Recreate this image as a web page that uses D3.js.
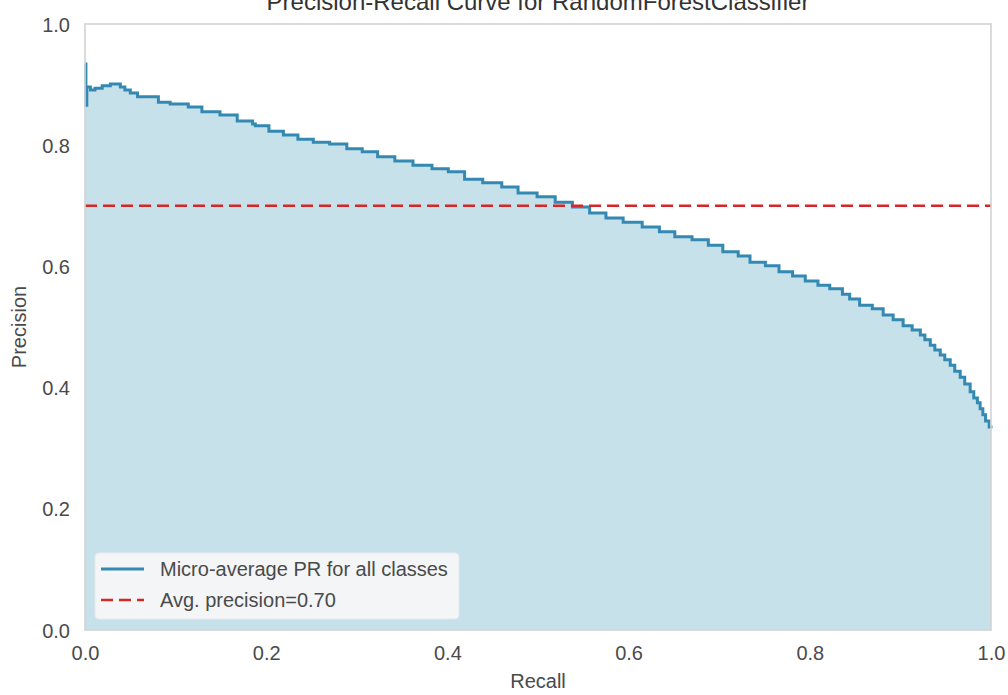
<!DOCTYPE html>
<html>
<head>
<meta charset="utf-8">
<script src="https://cdn.jsdelivr.net/npm/d3@7/dist/d3.min.js"></script>
<style>
  body { margin: 0; background: #ffffff; }
  svg { display: block; }
  text { font-family: "Liberation Sans", Arial, sans-serif; }
</style>
</head>
<body>
<svg id="chart" width="1008" height="695"></svg>
<script>
// ---- data ----
const recall = [0.000,0.001,0.002,0.006,0.011,0.019,0.028,0.039,0.044,0.050,0.058,0.081,0.094,0.114,0.129,0.149,0.168,0.185,0.188,0.203,0.219,0.235,0.252,0.270,0.289,0.306,0.323,0.342,0.362,0.383,0.401,0.419,0.439,0.460,0.478,0.499,0.519,0.538,0.557,0.575,0.594,0.615,0.634,0.651,0.670,0.688,0.704,0.721,0.734,0.751,0.766,0.781,0.795,0.809,0.822,0.836,0.844,0.855,0.869,0.881,0.892,0.903,0.913,0.922,0.927,0.933,0.938,0.944,0.949,0.955,0.960,0.966,0.971,0.977,0.981,0.985,0.988,0.991,0.994,0.998,1.000];
const precision = [0.934,0.866,0.896,0.891,0.894,0.898,0.901,0.896,0.891,0.886,0.880,0.871,0.868,0.863,0.855,0.850,0.840,0.835,0.832,0.823,0.817,0.810,0.805,0.802,0.794,0.789,0.781,0.774,0.767,0.761,0.756,0.744,0.738,0.731,0.721,0.715,0.706,0.698,0.688,0.680,0.673,0.665,0.657,0.649,0.644,0.635,0.624,0.617,0.607,0.601,0.591,0.584,0.576,0.569,0.563,0.554,0.546,0.536,0.530,0.520,0.512,0.502,0.495,0.487,0.479,0.470,0.462,0.454,0.446,0.437,0.427,0.417,0.406,0.393,0.383,0.375,0.365,0.355,0.345,0.335,0.333];
const avgPrecision = 0.70;
const xTicks = [0.0, 0.2, 0.4, 0.6, 0.8, 1.0];
const yTicks = [0.0, 0.2, 0.4, 0.6, 0.8, 1.0];
const titleText = "Precision-Recall Curve for RandomForestClassifier";
const xLabel = "Recall";
const yLabel = "Precision";
const legendLabels = ["Micro-average PR for all classes", "Avg. precision=0.70"];

// ---- layout ----
const svg = d3.select("#chart");
const M = { left: 85, right: 991, top: 24, bottom: 630 };
const x = d3.scaleLinear().domain([0, 1]).range([M.left, M.right]);
const y = d3.scaleLinear().domain([0, 1]).range([M.bottom, M.top]);

const lineColor = "#3389b1";
const fillColor = "#c7e1ea";
const redColor = "#d62728";
const textColor = "#4a4a4a";

const pts = recall.map((r, i) => ({ r: r, p: precision[i] }));

// area
svg.append("path")
  .datum(pts)
  .attr("fill", fillColor)
  .attr("d", d3.area().curve(d3.curveStepAfter)
    .x(d => x(d.r)).y0(y(0)).y1(d => y(d.p)));

// line
svg.append("path")
  .datum(pts)
  .attr("fill", "none")
  .attr("stroke", lineColor)
  .attr("stroke-width", 3)
  .attr("stroke-linejoin", "miter")
  .attr("d", d3.line().curve(d3.curveStepAfter).x(d => x(d.r)).y(d => y(d.p)));

// avg precision dashed line
svg.append("line")
  .attr("x1", x(0)).attr("x2", x(1))
  .attr("y1", y(avgPrecision)).attr("y2", y(avgPrecision))
  .attr("stroke", redColor)
  .attr("stroke-width", 2.6)
  .attr("stroke-dasharray", "12,6");

// frame
svg.append("rect")
  .attr("x", M.left).attr("y", M.top)
  .attr("width", M.right - M.left).attr("height", M.bottom - M.top)
  .attr("fill", "none").attr("stroke", "#d2d2d2").attr("stroke-width", 1.6);

// axes
const fmt = d3.format(".1f");
const xAxis = svg.append("g").attr("transform", `translate(0,${M.bottom})`)
  .call(d3.axisBottom(x).tickValues(xTicks).tickFormat(fmt).tickSize(0).tickPadding(0));
xAxis.select(".domain").remove();
xAxis.selectAll("text").attr("y", 30).attr("dy", 0).attr("font-size", 20).attr("fill", textColor)
  .attr("font-family", "Liberation Sans, Arial, sans-serif");

const yAxis = svg.append("g").attr("transform", `translate(${M.left},0)`)
  .call(d3.axisLeft(y).tickValues(yTicks).tickFormat(fmt).tickSize(0).tickPadding(0));
yAxis.select(".domain").remove();
yAxis.selectAll("text").attr("x", -15).attr("dy", "0.35em").attr("font-size", 20).attr("fill", textColor)
  .attr("font-family", "Liberation Sans, Arial, sans-serif");

// axis labels
svg.append("text").attr("x", (M.left + M.right) / 2).attr("y", 688)
  .attr("text-anchor", "middle").attr("font-size", 20).attr("fill", textColor).text(xLabel);
svg.append("text").attr("transform", `translate(26,${(M.top + M.bottom) / 2}) rotate(-90)`)
  .attr("text-anchor", "middle").attr("font-size", 20).attr("fill", textColor).text(yLabel);

// title (clipped at top in reference)
svg.append("text").attr("x", (M.left + M.right) / 2).attr("y", 10)
  .attr("text-anchor", "middle").attr("font-size", 24).attr("fill", "#333").text(titleText);

// legend
const lg = svg.append("g");
lg.append("rect").attr("x", 95).attr("y", 553).attr("width", 364).attr("height", 66)
  .attr("rx", 4).attr("fill", "#f5f5f8").attr("fill-opacity", 0.95).attr("stroke", "#e8e8ee");
lg.append("line").attr("x1", 101).attr("x2", 144).attr("y1", 569).attr("y2", 569)
  .attr("stroke", lineColor).attr("stroke-width", 3);
lg.append("line").attr("x1", 101).attr("x2", 144).attr("y1", 600).attr("y2", 600)
  .attr("stroke", redColor).attr("stroke-width", 2.6).attr("stroke-dasharray", "12,6");
lg.selectAll("text.leg").data(legendLabels).enter().append("text")
  .attr("class", "leg")
  .attr("x", 160).attr("y", (d, i) => 569 + i * 31).attr("dy", "0.35em")
  .attr("font-size", 20).attr("fill", textColor).text(d => d);
</script>
</body>
</html>
